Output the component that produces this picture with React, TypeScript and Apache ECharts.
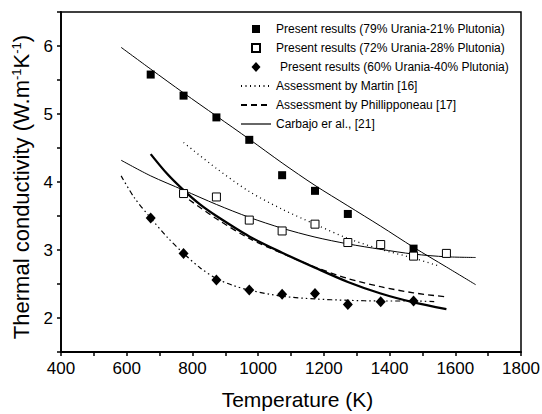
import React, { useEffect, useRef } from "react";
import * as echarts from "echarts";

// ---------- data ----------
const FONT = "Liberation Sans, Arial, Helvetica, sans-serif";

const nameU79 = "Present results (79% Urania-21% Plutonia)";
const nameU72 = "Present results (72% Urania-28% Plutonia)";
const nameU60 = "Present results (60% Urania-40% Plutonia)";
const nameMartin = "Assessment by Martin [16]";
const namePhill = "Assessment by Phillipponeau [17]";
const nameCarbajo = "Carbajo er al., [21]";

const tempU79 = [673, 773, 873, 973, 1073, 1173, 1273, 1473];
const kU79 = [5.58, 5.27, 4.95, 4.62, 4.1, 3.87, 3.53, 3.02];

const tempU72 = [773, 873, 973, 1073, 1173, 1273, 1373, 1473, 1573];
const kU72 = [3.83, 3.78, 3.44, 3.28, 3.38, 3.11, 3.08, 2.91, 2.95];

const tempU60 = [673, 773, 873, 973, 1073, 1173, 1273, 1373, 1473];
const kU60 = [3.47, 2.95, 2.56, 2.41, 2.35, 2.36, 2.2, 2.24, 2.25];

// fitted curves through the measurements
const fitU79T = [583, 673, 773, 873, 973, 1073, 1173, 1273, 1373, 1473, 1573, 1662];
const fitU79K = [5.98, 5.66, 5.31, 4.97, 4.63, 4.28, 3.95, 3.65, 3.35, 3.04, 2.75, 2.49];

const fitU72T = [583, 673, 773, 873, 973, 1073, 1173, 1273, 1373, 1473, 1573, 1662];
const fitU72K = [4.32, 4.09, 3.88, 3.67, 3.48, 3.32, 3.19, 3.09, 3.01, 2.94, 2.9, 2.89];

const fitU60T = [583, 623, 673, 723, 773, 823, 873, 923, 973, 1073, 1173, 1273, 1373, 1473, 1538];
const fitU60K = [4.09, 3.77, 3.47, 3.19, 2.95, 2.74, 2.58, 2.48, 2.41, 2.32, 2.28, 2.26, 2.25, 2.25, 2.24];

// literature curves
const martinT = [773, 873, 973, 1073, 1173, 1273, 1373, 1473, 1553];
const martinK = [4.58, 4.2, 3.86, 3.6, 3.38, 3.17, 3.01, 2.88, 2.76];

const phillT = [790, 873, 973, 1073, 1173, 1273, 1373, 1473, 1573];
const phillK = [3.74, 3.46, 3.17, 2.95, 2.75, 2.58, 2.46, 2.37, 2.31];

const carbT = [673, 723, 773, 823, 873, 973, 1073, 1173, 1273, 1373, 1473, 1573];
const carbK = [4.41, 4.12, 3.88, 3.67, 3.5, 3.2, 2.96, 2.74, 2.53, 2.36, 2.23, 2.13];

const xTickLabels = [400, 600, 800, 1000, 1200, 1400, 1600, 1800];
const yTickLabels = [2, 3, 4, 5, 6];

const zip = (xs: number[], ys: number[]) => xs.map((x, i) => [x, ys[i]]);

// legend icons: invisible corner points keep the 30x10 box so the marker stays centred and undistorted
const squareIcon = "path://M0 0M30 10M11 1L19 1L19 9L11 9Z";
const diamondIcon = "path://M0 0M30 10M15 0L19.5 5L15 10L10.5 5Z";

export default function App() {
  const ref = useRef<HTMLDivElement>(null);

  useEffect(() => {
    if (!ref.current) return;
    const chart = echarts.init(ref.current, undefined, { renderer: "svg" });

    const lineSeries = (
      name: string,
      xs: number[],
      ys: number[],
      width: number,
      type: any
    ) => ({
      name,
      type: "line",
      data: zip(xs, ys),
      smooth: 0.3,
      showSymbol: false,
      symbol: "none",
      lineStyle: { color: "#000", width, type },
      itemStyle: { color: "#000" },
      z: 2,
    });

    const hiddenDot = { opacity: 0 };

    chart.setOption({
      animation: false,
      backgroundColor: "#fff",
      grid: {
        left: 61,
        right: 21,
        top: 12,
        bottom: 62,
        containLabel: false,
        outerBoundsMode: "none",
        show: true,
        borderColor: "#000",
        borderWidth: 1.5,
        backgroundColor: "transparent",
      },
      legend: {
        orient: "vertical",
        left: 235,
        top: 18,
        itemWidth: 30,
        itemHeight: 10,
        itemGap: 7,
        selectedMode: false,
        textStyle: { fontSize: 12, fontFamily: FONT, color: "#000" },
        data: [
          { name: nameU79, icon: squareIcon },
          { name: nameU72, icon: squareIcon },
          { name: nameU60, icon: diamondIcon, textStyle: { padding: [0, 0, 0, 4] } },
          { name: nameMartin, itemStyle: hiddenDot },
          { name: namePhill, itemStyle: hiddenDot },
          { name: nameCarbajo, itemStyle: hiddenDot, lineStyle: { width: 1.2 } },
        ],
      },
      xAxis: {
        type: "value",
        min: 400,
        max: 1800,
        interval: 100,
        name: "Temperature (K)",
        nameLocation: "middle",
        nameGap: 37,
        nameTextStyle: { fontSize: 21, fontFamily: FONT, color: "#000", padding: [0, 0, 0, 13] },
        axisLine: { show: true, onZero: false, lineStyle: { color: "#000", width: 1.8 } },
        axisTick: { show: true, inside: false, length: 4, lineStyle: { color: "#000", width: 1.5 } },
        axisLabel: {
          fontSize: 17,
          fontFamily: FONT,
          color: "#000",
          margin: 8,
          formatter: (v: number) => (xTickLabels.includes(v) ? String(v) : ""),
        },
        splitLine: { show: false },
      },
      yAxis: {
        type: "value",
        min: 1.5,
        max: 6.5,
        interval: 0.5,
        name: "Thermal conductivity (W.m{sup|-1}K{sup|-1})",
        nameLocation: "middle",
        nameRotate: 90,
        nameGap: 19,
        nameTextStyle: {
          fontSize: 22,
          fontFamily: FONT,
          color: "#000",
          padding: [0, 10, 0, 0],
          rich: {
            sup: { fontSize: 13, fontFamily: FONT, color: "#000", verticalAlign: "top", lineHeight: 24 },
          },
        },
        axisLine: { show: true, onZero: false, lineStyle: { color: "#000", width: 1.8 } },
        axisTick: { show: true, inside: false, length: 4, lineStyle: { color: "#000", width: 1.5 } },
        axisLabel: {
          fontSize: 17,
          fontFamily: FONT,
          color: "#000",
          margin: 8,
          formatter: (v: number) => (yTickLabels.includes(v) ? String(v) : ""),
        },
        splitLine: { show: false },
      },
      series: [
        {
          name: nameU79,
          type: "scatter",
          data: zip(tempU79, kU79),
          symbol: "rect",
          symbolSize: 8,
          itemStyle: { color: "#000", opacity: 1 },
          z: 5,
        },
        {
          name: nameU72,
          type: "scatter",
          data: zip(tempU72, kU72),
          symbol: "rect",
          symbolSize: 8,
          itemStyle: { color: "#fff", borderColor: "#000", borderWidth: 1, opacity: 1 },
          z: 5,
        },
        {
          name: nameU60,
          type: "scatter",
          data: zip(tempU60, kU60),
          symbol: "diamond",
          symbolSize: [10, 11],
          itemStyle: { color: "#000", opacity: 1 },
          z: 5,
        },
        lineSeries(nameMartin, martinT, martinK, 1.3, [1, 3.5]),
        lineSeries(namePhill, phillT, phillK, 1.3, [6, 4]),
        lineSeries(nameCarbajo, carbT, carbK, 2.3, "solid"),
        lineSeries("fitU79", fitU79T, fitU79K, 1, "solid"),
        lineSeries("fitU72", fitU72T, fitU72K, 1, "solid"),
        lineSeries("fitU60", fitU60T, fitU60K, 1.2, [5, 3, 1.5, 3, 1.5, 3]),
      ],
    });

    return () => chart.dispose();
  }, []);

  return <div ref={ref} style={{ width: 542, height: 414, position: "absolute", left: 0, top: 0 }} />;
}
